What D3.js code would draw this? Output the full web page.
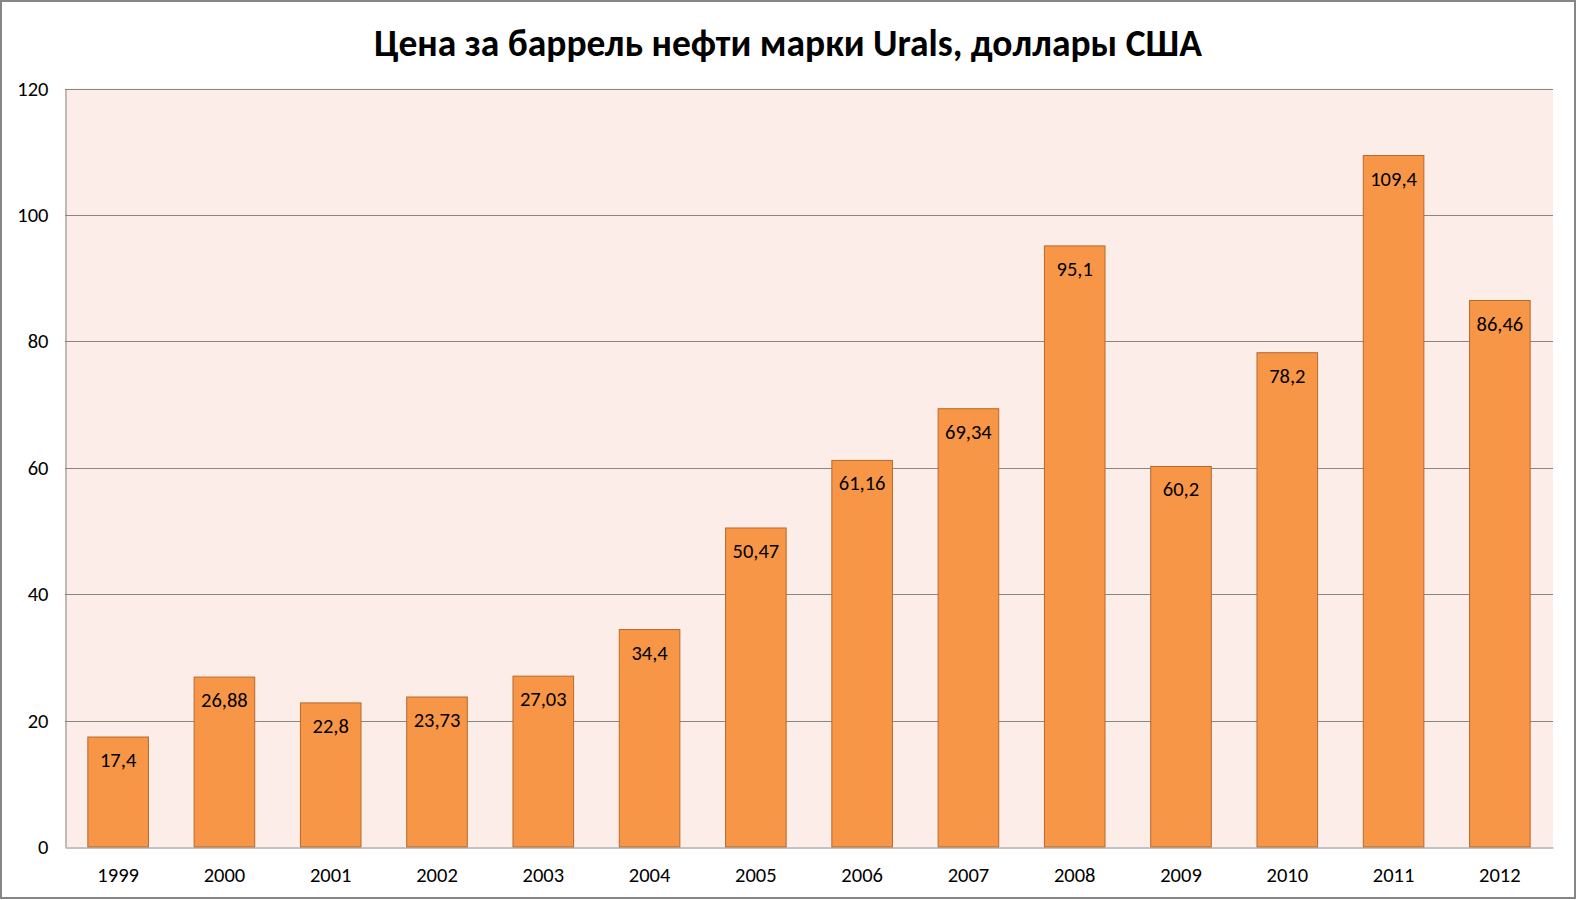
<!DOCTYPE html>
<html><head><meta charset="utf-8">
<script src="https://cdn.jsdelivr.net/npm/d3@7"></script>
<style>body{margin:0;background:#fff}svg{display:block}</style>
</head><body>
<script>
const years = ["1999","2000","2001","2002","2003","2004","2005","2006","2007","2008","2009","2010","2011","2012"];
const prices = [17.4,26.88,22.8,23.73,27.03,34.4,50.47,61.16,69.34,95.1,60.2,78.2,109.4,86.46];
const yTicks = [0,20,40,60,80,100,120];
const title = "Цена за баррель нефти марки Urals, доллары США";

const W=1576,H=900;
const svg=d3.select("body").append("svg").attr("width",W).attr("height",H);
svg.append("rect").attr("x",1).attr("y",1).attr("width",W-2).attr("height",H-3)
  .attr("fill","#fff").attr("stroke","#868686").attr("stroke-width",2);

const L=65,R=1553,T=88.5,B=847;
const x=d3.scaleBand().domain(years).range([L,R]).paddingInner(0.43).paddingOuter(0.215);
const y=d3.scaleLinear().domain([0,120]).range([B,T]);

svg.append("rect").attr("x",L).attr("y",T).attr("width",R-L).attr("height",B-T).attr("fill","#FCEDE8");

const font="Carlito, Lato, 'Open Sans', sans-serif";
const fs=20.5;
// gridlines
svg.append("g").selectAll("line").data(yTicks.filter(d=>d>0)).join("line")
  .attr("x1",L).attr("x2",R).attr("y1",d=>Math.round(y(d))+0.5).attr("y2",d=>Math.round(y(d))+0.5)
  .attr("stroke","#868686").attr("stroke-width",1);

// y axis
const ya=svg.append("g").attr("transform",`translate(${L+0.5},0)`)
  .call(d3.axisLeft(y).tickValues(yTicks).tickSize(0).tickPadding(17));
ya.select(".domain").attr("stroke","#868686");
ya.selectAll("text").attr("font-family",font).attr("font-size",fs).attr("fill","#000");

// bars
svg.append("g").selectAll("rect").data(prices).join("rect")
  .attr("x",(d,i)=>x(years[i])).attr("width",x.bandwidth())
  .attr("y",d=>y(d)).attr("height",d=>B-y(d))
  .attr("fill","#F79646").attr("stroke","#B7692C").attr("stroke-width",1);

// x axis
const xa=svg.append("g").attr("transform",`translate(0,${B+0.5})`)
  .call(d3.axisBottom(x).tickSize(0).tickPadding(20));
xa.select(".domain").attr("stroke","#868686");
xa.selectAll("text").attr("font-family",font).attr("font-size",fs).attr("fill","#000");

// data labels
svg.append("g").selectAll("text").data(prices).join("text")
  .attr("x",(d,i)=>x(years[i])+x.bandwidth()/2).attr("y",d=>y(d)+30)
  .attr("text-anchor","middle").attr("font-family",font).attr("font-size",fs).attr("fill","#000")
  .text(d=>String(d).replace(".",","));

svg.append("text").attr("x",788).attr("y",56).attr("text-anchor","middle")
  .attr("font-family",font).attr("font-weight","bold").attr("font-size",37.5).attr("fill","#000")
  .text(title);
</script>
</body></html>
